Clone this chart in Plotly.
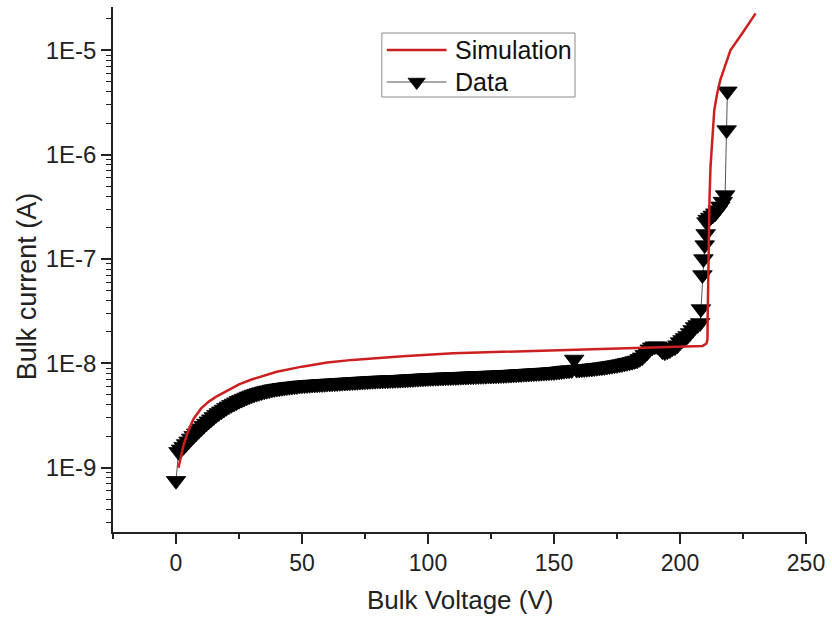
import plotly.graph_objects as go

# Simulated bulk current vs bulk voltage (A)
sim_voltage = [1, 2, 3, 5, 7, 10, 13, 16, 20, 25, 30, 40, 50, 60, 70, 80, 90, 100,
               110, 120, 130, 140, 150, 160, 170, 180, 190, 200, 205, 209, 210.5,
               210.9, 211.0, 211.2, 211.4, 211.7, 212.1, 212.8, 213.6, 214.8, 216,
               218, 220, 225, 230]
sim_current = [1.0e-9, 1.3e-9, 1.65e-9, 2.3e-9, 2.95e-9, 3.7e-9, 4.3e-9, 4.8e-9,
               5.45e-9, 6.3e-9, 7.0e-9, 8.3e-9, 9.3e-9, 1.02e-8, 1.08e-8, 1.13e-8,
               1.17e-8, 1.21e-8, 1.25e-8, 1.27e-8, 1.29e-8, 1.31e-8, 1.33e-8, 1.35e-8,
               1.37e-8, 1.39e-8, 1.41e-8, 1.43e-8, 1.45e-8, 1.47e-8, 1.55e-8,
               1.7e-8, 3.0e-8, 8.0e-8, 2.0e-7, 3.7e-7, 7.6e-7, 1.44e-6, 2.67e-6,
               3.9e-6, 5.2e-6, 7.2e-6, 1.0e-5, 1.49e-5, 2.26e-5]

# Measured sweep, 1 V steps up to 208 V, then the breakdown points
data_voltage = [
    0,
    1, 2, 3, 4, 5, 6, 7, 8, 9, 10,
    11, 12, 13, 14, 15, 16, 17, 18, 19, 20,
    21, 22, 23, 24, 25, 26, 27, 28, 29, 30,
    31, 32, 33, 34, 35, 36, 37, 38, 39, 40,
    41, 42, 43, 44, 45, 46, 47, 48, 49, 50,
    51, 52, 53, 54, 55, 56, 57, 58, 59, 60,
    61, 62, 63, 64, 65, 66, 67, 68, 69, 70,
    71, 72, 73, 74, 75, 76, 77, 78, 79, 80,
    81, 82, 83, 84, 85, 86, 87, 88, 89, 90,
    91, 92, 93, 94, 95, 96, 97, 98, 99, 100,
    101, 102, 103, 104, 105, 106, 107, 108, 109, 110,
    111, 112, 113, 114, 115, 116, 117, 118, 119, 120,
    121, 122, 123, 124, 125, 126, 127, 128, 129, 130,
    131, 132, 133, 134, 135, 136, 137, 138, 139, 140,
    141, 142, 143, 144, 145, 146, 147, 148, 149, 150,
    151, 152, 153, 154, 155, 156, 157, 158, 159, 160,
    161, 162, 163, 164, 165, 166, 167, 168, 169, 170,
    171, 172, 173, 174, 175, 176, 177, 178, 179, 180,
    181, 182, 183, 184, 185, 186, 187, 188, 189, 190,
    191, 192, 193, 194, 195, 196, 197, 198, 199, 200,
    201, 202, 203, 204, 205, 206, 207, 208,
    208.3, 208.9, 209.3, 209.8, 210.2, 210.5,
    211, 212, 213, 214, 215, 216, 217,
    217.9, 218.5, 218.8,
]
data_current = [
    7.5e-10,
    1.42e-9, 1.50e-9, 1.59e-9, 1.69e-9, 1.79e-9, 1.91e-9, 2.02e-9, 2.14e-9, 2.26e-9, 2.39e-9,
    2.52e-9, 2.65e-9, 2.79e-9, 2.92e-9, 3.07e-9, 3.22e-9, 3.35e-9, 3.48e-9, 3.61e-9, 3.75e-9,
    3.88e-9, 4.01e-9, 4.13e-9, 4.25e-9, 4.38e-9, 4.49e-9, 4.60e-9, 4.72e-9, 4.83e-9, 4.94e-9,
    5.04e-9, 5.13e-9, 5.22e-9, 5.31e-9, 5.40e-9, 5.47e-9, 5.54e-9, 5.61e-9, 5.68e-9, 5.73e-9,
    5.78e-9, 5.83e-9, 5.87e-9, 5.92e-9, 5.96e-9, 6.00e-9, 6.04e-9, 6.08e-9, 6.12e-9, 6.16e-9,
    6.18e-9, 6.21e-9, 6.24e-9, 6.26e-9, 6.28e-9, 6.30e-9, 6.33e-9, 6.35e-9, 6.37e-9, 6.40e-9,
    6.42e-9, 6.44e-9, 6.46e-9, 6.48e-9, 6.51e-9, 6.53e-9, 6.55e-9, 6.57e-9, 6.59e-9, 6.62e-9,
    6.64e-9, 6.66e-9, 6.69e-9, 6.71e-9, 6.73e-9, 6.75e-9, 6.78e-9, 6.80e-9, 6.82e-9, 6.84e-9,
    6.86e-9, 6.87e-9, 6.89e-9, 6.90e-9, 6.92e-9, 6.93e-9, 6.95e-9, 6.96e-9, 6.98e-9, 7.00e-9,
    7.02e-9, 7.05e-9, 7.07e-9, 7.09e-9, 7.12e-9, 7.14e-9, 7.16e-9, 7.19e-9, 7.21e-9, 7.24e-9,
    7.26e-9, 7.27e-9, 7.29e-9, 7.30e-9, 7.32e-9, 7.34e-9, 7.35e-9, 7.37e-9, 7.38e-9, 7.40e-9,
    7.42e-9, 7.43e-9, 7.45e-9, 7.47e-9, 7.48e-9, 7.50e-9, 7.52e-9, 7.53e-9, 7.55e-9, 7.57e-9,
    7.59e-9, 7.60e-9, 7.62e-9, 7.64e-9, 7.65e-9, 7.67e-9, 7.69e-9, 7.70e-9, 7.72e-9, 7.74e-9,
    7.76e-9, 7.79e-9, 7.81e-9, 7.84e-9, 7.87e-9, 7.89e-9, 7.92e-9, 7.95e-9, 7.97e-9, 8.00e-9,
    8.03e-9, 8.05e-9, 8.08e-9, 8.11e-9, 8.14e-9, 8.16e-9, 8.19e-9, 8.22e-9, 8.25e-9, 8.27e-9,
    8.33e-9, 8.38e-9, 8.44e-9, 8.50e-9, 8.56e-9, 8.59e-9, 8.63e-9, 1.09e-8, 8.71e-9, 8.75e-9,
    8.79e-9, 8.83e-9, 8.87e-9, 8.91e-9, 8.95e-9, 9.01e-9, 9.07e-9, 9.13e-9, 9.19e-9, 9.25e-9,
    9.33e-9, 9.41e-9, 9.50e-9, 9.59e-9, 9.67e-9, 9.77e-9, 9.87e-9, 9.99e-9, 1.011e-8, 1.023e-8,
    1.038e-8, 1.054e-8, 1.069e-8, 1.105e-8, 1.144e-8, 1.21e-8, 1.278e-8, 1.366e-8, 1.428e-8, 1.460e-8,
    1.460e-8, 1.400e-8, 1.310e-8, 1.280e-8, 1.310e-8, 1.340e-8, 1.400e-8, 1.430e-8, 1.495e-8, 1.600e-8,
    1.679e-8, 1.754e-8, 1.833e-8, 1.958e-8, 2.092e-8, 2.235e-8, 2.336e-8, 2.441e-8,
    3.32e-8, 7.03e-8, 1.0e-7, 1.36e-7, 1.74e-7, 2.26e-7,
    2.39e-7, 2.50e-7, 2.62e-7, 2.75e-7, 2.95e-7, 3.20e-7, 3.55e-7,
    4.10e-7, 1.72e-6, 4.05e-6,
]

y_major = [1e-9, 1e-8, 1e-7, 1e-6, 1e-5]
y_major_text = ["1E-9", "1E-8", "1E-7", "1E-6", "1E-5"]
y_minor = [m * 10 ** e for e in range(-10, -4) for m in range(2, 10)]
x_major = [0, 50, 100, 150, 200, 250]
x_minor = [-25, 25, 75, 125, 175, 225]

legend_names = ["Simulation", "Data"]

FONT = "Arial, 'Liberation Sans', sans-serif"
AXIS_COLOR = "#222222"
SIM_COLOR = "#cc2020"
DATA_LINE = "#555555"

# page layout in pixels (plot area spans x 113..809, y 7..532)
W, H = 832, 619
L, R, T, B = 113, 23, 7, 87
PW, PH = W - L - R, H - T - B


def px(x):
    return (x - L) / PW


def py(y):
    return (H - B - y) / PH


fig = go.Figure()

fig.add_trace(go.Scatter(
    x=data_voltage, y=data_current, mode="lines+markers", name=legend_names[1],
    line=dict(color=DATA_LINE, width=1),
    marker=dict(symbol="triangle-down", size=17, color="black",
                line=dict(width=0.8, color="black")),
    showlegend=False,
))
fig.add_trace(go.Scatter(
    x=sim_voltage, y=sim_current, mode="lines", name=legend_names[0],
    line=dict(color=SIM_COLOR, width=2.5),
    showlegend=False,
))

# legend drawn by hand: framed box with long line samples
leg_x0, leg_x1, leg_y0, leg_y1 = 383, 577, 33, 97
row_y = [50, 82]
sample_x0, sample_x1, text_x = 388, 448, 454
shapes = [
    dict(type="rect", xref="paper", yref="paper",
         x0=px(leg_x0), x1=px(leg_x1), y0=py(leg_y1), y1=py(leg_y0),
         line=dict(color="#8a8a8a", width=1), fillcolor="rgba(0,0,0,0)",
         layer="above"),
    dict(type="line", xref="paper", yref="paper",
         x0=px(sample_x0), x1=px(sample_x1), y0=py(row_y[0]), y1=py(row_y[0]),
         line=dict(color=SIM_COLOR, width=2.5), layer="above"),
    dict(type="line", xref="paper", yref="paper",
         x0=px(sample_x0), x1=px(sample_x1), y0=py(row_y[1]), y1=py(row_y[1]),
         line=dict(color=DATA_LINE, width=1), layer="below"),
]
fig.add_trace(go.Scatter(
    x=[px((sample_x0 + sample_x1) / 2)], y=[py(row_y[1])],
    xaxis="x2", yaxis="y2", mode="markers", showlegend=False, hoverinfo="skip",
    marker=dict(symbol="triangle-down", size=15, color="black",
                line=dict(width=0.8, color="black")),
    cliponaxis=False,
))

annotations = [
    dict(text=legend_names[i], xref="paper", yref="paper",
         x=px(text_x), y=py(row_y[i]), xanchor="left", yanchor="middle",
         showarrow=False, font=dict(size=25, color="#111111"))
    for i in range(2)
] + [
    dict(text="Bulk Voltage (V)", xref="paper", yref="paper",
         x=px(461), y=py(600), xanchor="center", yanchor="middle",
         showarrow=False, font=dict(size=26, color=AXIS_COLOR)),
    dict(text="Bulk current (A)", xref="paper", yref="paper",
         x=px(27), y=py(286), xanchor="center", yanchor="middle",
         textangle=-90, showarrow=False, font=dict(size=27, color=AXIS_COLOR)),
]

fig.update_layout(
    width=W, height=H,
    margin=dict(l=L, r=R, t=T, b=B),
    paper_bgcolor="white", plot_bgcolor="white",
    font=dict(family=FONT, color=AXIS_COLOR),
    showlegend=False,
    shapes=shapes,
    annotations=annotations,
    xaxis=dict(
        range=[-25, 250], showgrid=False, zeroline=False,
        showline=True, linecolor=AXIS_COLOR, linewidth=1.6,
        ticks="outside", ticklen=10, tickwidth=1.5, tickcolor=AXIS_COLOR,
        tickvals=x_major, ticktext=[str(v) for v in x_major],
        tickfont=dict(size=23, color=AXIS_COLOR),
        minor=dict(tickvals=x_minor, ticks="outside", ticklen=5,
                   tickwidth=1.5, tickcolor=AXIS_COLOR, showgrid=False),
    ),
    yaxis=dict(
        type="log", range=[-9.616, -4.585], showgrid=False, zeroline=False,
        showline=True, linecolor=AXIS_COLOR, linewidth=1.6,
        ticks="outside", ticklen=10, tickwidth=1.5, tickcolor=AXIS_COLOR,
        tickvals=y_major, ticktext=y_major_text,
        tickfont=dict(size=24, color=AXIS_COLOR),
        minor=dict(tickvals=y_minor, ticks="outside", ticklen=5,
                   tickwidth=1.2, tickcolor=AXIS_COLOR, showgrid=False),
    ),
    xaxis2=dict(overlaying="x", range=[0, 1], visible=False, fixedrange=True),
    yaxis2=dict(overlaying="y", range=[0, 1], visible=False, fixedrange=True),
)

fig.write_html("out.html")
